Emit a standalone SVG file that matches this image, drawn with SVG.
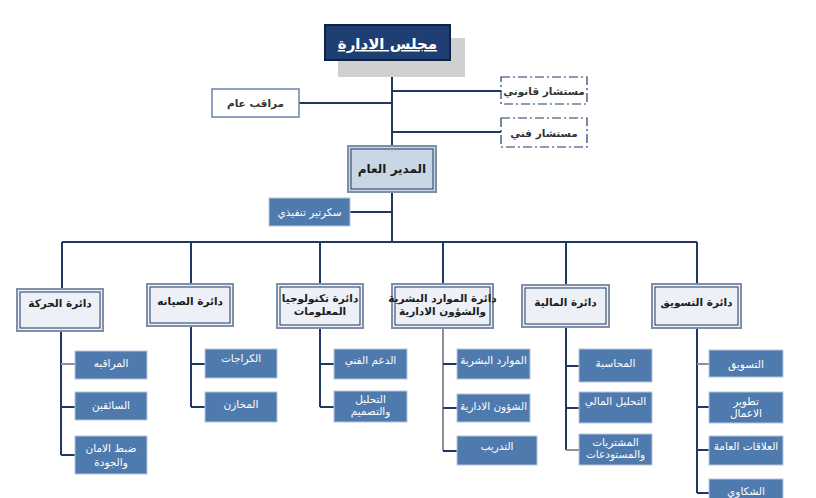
<svg xmlns="http://www.w3.org/2000/svg" width="816" height="498" viewBox="0 0 816 498">
<style>
text{font-family:"DejaVu Sans","Noto Sans",sans-serif;text-anchor:middle;direction:rtl}
.ln{stroke:#1f3864;stroke-width:2;fill:none}
.lg{stroke:#8a8f98;stroke-width:2;fill:none}
.ch{fill:#4f7aae;stroke:#b7c6dc;stroke-width:1}
.ct{fill:#ffffff;font-size:10.5px}
.dO{fill:#edf0f6;stroke:#8190a8;stroke-width:2}
.dI{fill:none;stroke:#1f3864;stroke-width:1}
.dt{fill:#1c1c1c;font-size:10.5px;font-weight:bold}
.wb{fill:#ffffff;stroke:#6d83a8;stroke-width:1.5}
.dash{fill:#ffffff;stroke:#1f3864;stroke-width:1.2;stroke-dasharray:9 3 2 3}
.wt{fill:#333333;font-size:10.5px;font-weight:bold}
</style>
<g id="connectors">
<path class="ln" d="M392 60V242"/>
<path class="ln" d="M299 103H392M392 91H501M392 132H501M350 212H392"/>
<path class="ln" d="M62 242H697"/>
<path class="ln" d="M62 242V289M191 242V284M320 242V284M443 242V284M566 242V285M697 242V284"/>
<path class="ln" d="M61 331V455M61 407H75M61 455H75"/>
<path class="lg" d="M61 364H75"/>
<path class="ln" d="M191 326V407M191 364H205M191 407H205"/>
<path class="ln" d="M320 328V407M320 364H334M320 407H334"/>
<path class="lg" d="M443 328V451"/>
<path class="ln" d="M443 364H457M443 408H457M443 451H457"/>
<path class="ln" d="M566 327V450M566 366H579M566 408H579"/>
<path class="lg" d="M566 450H579"/>
<path class="ln" d="M697 328V493M697 407H709M697 450H709M697 493H709"/>
<path class="lg" d="M697 364H709"/>
</g>
<g id="board">
<rect x="338" y="38" width="127" height="39" fill="#d0d0d0"/>
<rect x="325" y="25" width="125" height="35" fill="#1f3f73" stroke="#0f2344" stroke-width="2"/>
<text x="387.5" y="49" fill="#ffffff" font-size="15" font-weight="bold" text-decoration="underline">مجلس الادارة</text>
</g>
<g id="legal">
<rect class="dash" x="501" y="77" width="86" height="27"/>
<text class="wt" x="544" y="95" font-size="10">مستشار قانوني</text>
</g>
<g id="tech-adv">
<rect class="dash" x="501" y="118" width="86" height="29"/>
<text class="wt" x="544" y="137">مستشار فني</text>
</g>
<g id="supervisor">
<rect class="wb" x="212" y="89" width="87" height="28"/>
<text class="wt" x="255.5" y="107">مراقب عام</text>
</g>
<g id="gm">
<rect x="348" y="146" width="88" height="46" fill="#c9d6e6" stroke="#7f8fa6" stroke-width="2"/>
<rect x="351" y="149" width="82" height="40" fill="none" stroke="#1f3864" stroke-width="1"/>
<text x="392" y="173" fill="#1c1c1c" font-size="12" font-weight="bold">المدير العام</text>
</g>
<g id="secretary">
<rect class="ch" x="269" y="198" width="81" height="28"/>
<text class="ct" x="309.5" y="216">سكرتير تنفيذي</text>
</g>
<g id="dept-movement">
<rect class="dO" x="17" y="289" width="86" height="42"/>
<rect class="dI" x="20" y="292" width="80" height="36"/>
<text class="dt" x="60" y="307">دائرة الحركة</text>
</g>
<g id="dept-maintenance">
<rect class="dO" x="147" y="284" width="86" height="42"/>
<rect class="dI" x="150" y="287" width="80" height="36"/>
<text class="dt" x="190" y="305">دائرة الصيانه</text>
</g>
<g id="dept-it">
<rect class="dO" x="277" y="284" width="86" height="44"/>
<rect class="dI" x="280" y="287" width="80" height="38"/>
<text class="dt" x="320" y="302" font-size="10">دائرة تكنولوجيا</text>
<text class="dt" x="320" y="315" font-size="10">المعلومات</text>
</g>
<g id="dept-hr">
<rect class="dO" x="392" y="284" width="101" height="44"/>
<rect class="dI" x="395" y="287" width="95" height="38"/>
<text class="dt" x="442.5" y="302" font-size="9.5">دائرة الموارد البشرية</text>
<text class="dt" x="442.5" y="315" font-size="9.5">والشؤون الادارية</text>
</g>
<g id="dept-finance">
<rect class="dO" x="522" y="285" width="87" height="42"/>
<rect class="dI" x="525" y="288" width="81" height="36"/>
<text class="dt" x="565.5" y="306">دائرة المالية</text>
</g>
<g id="dept-marketing">
<rect class="dO" x="652" y="284" width="89" height="44"/>
<rect class="dI" x="655" y="287" width="83" height="38"/>
<text class="dt" x="696.5" y="306">دائرة التسويق</text>
</g>
<g id="c1a"><rect class="ch" x="75" y="351" width="72" height="28"/><text class="ct" x="111" y="367">المراقبه</text></g>
<g id="c1b"><rect class="ch" x="75" y="392" width="72" height="28"/><text class="ct" x="111" y="409">السائقين</text></g>
<g id="c1c"><rect class="ch" x="75" y="436" width="72" height="38"/><text class="ct" x="111" y="452">ضبط الامان</text><text class="ct" x="111" y="466">والجودة</text></g>
<g id="c2a"><rect class="ch" x="205" y="349" width="72" height="29"/><text class="ct" x="241" y="362">الكراجات</text></g>
<g id="c2b"><rect class="ch" x="205" y="392" width="72" height="30"/><text class="ct" x="241" y="408">المخازن</text></g>
<g id="c3a"><rect class="ch" x="334" y="349" width="73" height="30"/><text class="ct" x="370.5" y="364">الدعم الفني</text></g>
<g id="c3b"><rect class="ch" x="334" y="391" width="73" height="31"/><text class="ct" x="370.5" y="403">التحليل</text><text class="ct" x="370.5" y="415">والتصميم</text></g>
<g id="c4a"><rect class="ch" x="457" y="349" width="73" height="30"/><text class="ct" x="493.5" y="364">الموارد البشرية</text></g>
<g id="c4b"><rect class="ch" x="457" y="394" width="73" height="28"/><text class="ct" x="493.5" y="410">الشؤون الادارية</text></g>
<g id="c4c"><rect class="ch" x="457" y="436" width="80" height="29"/><text class="ct" x="497" y="450">التدريب</text></g>
<g id="c5a"><rect class="ch" x="579" y="349" width="73" height="33"/><text class="ct" x="615.5" y="367">المحاسبة</text></g>
<g id="c5b"><rect class="ch" x="579" y="392" width="73" height="31"/><text class="ct" x="615.5" y="405">التحليل المالي</text></g>
<g id="c5c"><rect class="ch" x="579" y="434" width="73" height="31"/><text class="ct" x="615.5" y="446">المشتريات</text><text class="ct" x="615.5" y="458">والمستودعات</text></g>
<g id="c6a"><rect class="ch" x="709" y="350" width="74" height="27"/><text class="ct" x="746" y="368">التسويق</text></g>
<g id="c6b"><rect class="ch" x="709" y="392" width="74" height="31"/><text class="ct" x="746" y="405">تطوير</text><text class="ct" x="746" y="417">الاعمال</text></g>
<g id="c6c"><rect class="ch" x="709" y="436" width="74" height="29"/><text class="ct" x="746" y="450">العلاقات العامة</text></g>
<g id="c6d"><rect class="ch" x="709" y="479" width="74" height="30"/><text class="ct" x="746" y="495">الشكاوي</text></g>
</svg>
